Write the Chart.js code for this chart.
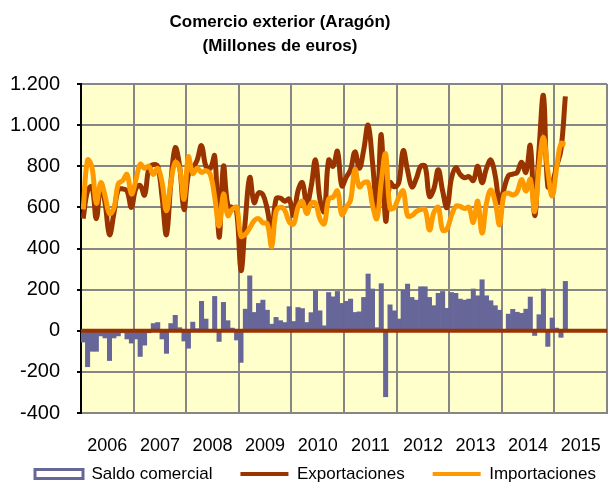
<!DOCTYPE html>
<html><head><meta charset="utf-8">
<script src="https://cdn.jsdelivr.net/npm/chart.js@4/dist/chart.umd.min.js"></script>
<style>
html,body{margin:0;padding:0;background:#fff;}
#wrap{position:relative;width:608px;height:483px;}
#title{position:absolute;left:0;top:10px;width:560px;text-align:center;font:bold 17px "Liberation Sans",Arial,sans-serif;line-height:24px;color:#000;}
canvas{position:absolute;left:0;top:0;}
</style></head><body>
<div id="wrap"><canvas id="c" width="608" height="483" style="width:608px;height:483px"></canvas>
<div id="title">Comercio exterior (Aragón)<br>(Millones de euros)</div></div>
<script>
const years = ['2006','2007','2008','2009','2010','2011','2012','2013','2014','2015'];
const seriesNames = ['Saldo comercial','Exportaciones','Importaciones'];
// monthly values, Jan 2006 - Mar 2015
const saldo = [
 -55,-175,-100,-100,-25,-35,-145,-35,-25,-10,-40,-60,
 -40,-125,-70,-10,35,40,-40,-110,35,75,15,-50,
 -85,42,10,143,57,5,167,-52,138,49,13,-45,
 -154,105,267,89,133,149,100,32,65,49,40,117,
 45,113,108,40,88,195,97,24,186,165,191,133,
 143,154,89,92,162,276,203,15,229,-321,126,97,
 57,198,227,162,149,214,214,162,122,182,191,109,
 186,182,154,149,154,203,170,248,170,146,122,100,
 5,81,104,90,85,105,164,-23,78,203,-76,62,
 13,-32,240];
const exportaciones = [
 545,680,700,545,710,620,467,570,686,690,680,600,
 690,706,660,790,808,800,650,467,720,890,800,590,
 760,790,830,900,800,790,850,455,800,610,600,580,
 292,540,746,623,670,662,590,480,640,645,630,640,
 560,680,720,615,700,830,640,580,830,800,873,705,
 746,783,870,790,880,1000,820,600,954,535,720,700,
 720,876,780,700,740,800,800,654,690,783,680,599,
 740,793,760,744,750,730,800,720,790,830,754,623,
 690,754,762,770,820,770,900,560,880,1143,700,720,
 800,880,1140];
const importaciones = [
 590,830,795,620,720,655,570,595,715,730,760,665,
 730,810,790,800,760,790,720,584,720,819,790,640,
 845,765,790,770,779,760,650,510,665,560,590,600,
 460,470,500,535,545,525,520,410,580,600,585,530,
 519,600,630,570,620,620,545,520,641,650,680,565,
 600,635,785,700,720,720,610,545,725,860,595,600,
 650,680,560,560,580,590,589,490,575,600,490,495,
 560,605,605,594,600,527,630,475,620,684,625,515,
 660,670,660,675,735,680,736,580,800,940,776,655,
 790,910,905];

const FONT = "'Liberation Sans', Arial, sans-serif";
const toXY = arr => arr.map((v, i) => ({x: i + 0.5, y: v}));
const fmt = v => String(v).replace(/\B(?=(\d{3})+(?!\d))/g, '.');

const bgPlugin = {id:'bg', beforeDraw(chart){
  const {ctx, chartArea:a} = chart; ctx.save(); ctx.fillStyle = '#FFFFCC';
  ctx.fillRect(a.left, a.top, a.right - a.left, a.bottom - a.top); ctx.restore(); }};
const zeroPlugin = {id:'zero', afterDatasetsDraw(chart){
  const {ctx, chartArea:a} = chart; const y = chart.scales.y.getPixelForValue(0);
  ctx.save(); ctx.strokeStyle = '#993300'; ctx.lineWidth = 4; ctx.beginPath();
  ctx.moveTo(a.left, y); ctx.lineTo(a.right, y); ctx.stroke(); ctx.restore(); }};
const LEG_PAD = 28;
const legendShift = {id:'legendShift', afterLayout(chart){
  const l = chart.legend; if (!l) return;
  l.top = 437.5; l.bottom = chart.height; l.height = l.bottom - l.top;
  l.left = 35 - LEG_PAD; l.right = 900; l.width = l.right - l.left; }};

new Chart(document.getElementById('c'), {
  type: 'bar',
  data: { datasets: [
    {type:'bar', label: seriesNames[0], data: toXY(saldo), backgroundColor:'#666699', borderWidth:0,
     barPercentage:1, categoryPercentage:1, order:3},
    {type:'line', label: seriesNames[1], data: toXY(exportaciones), borderColor:'#993300', borderWidth:5,
     pointRadius:0, tension:0.4, fill:false, order:2},
    {type:'line', label: seriesNames[2], data: toXY(importaciones), borderColor:'#FF9900', borderWidth:5,
     pointRadius:0, tension:0.4, fill:false, order:1}
  ]},
  options: {
    responsive:false, animation:false,
    layout:{padding:{top:84, right:1, bottom:0, left:0}},
    plugins:{
      tooltip:{enabled:false},
      title:{display:false},
      legend:{position:'bottom', align:'start', maxHeight:26,
        labels:{usePointStyle:true, pointStyleWidth:48, boxHeight:9, padding:LEG_PAD, color:'#000',
          font:{family:FONT, size:17},
          generateLabels: () => [
            {text:seriesNames[0], fillStyle:'#ffffff', strokeStyle:'#666699', lineWidth:3, pointStyle:'rect', datasetIndex:0, hidden:false, fontColor:'#000'},
            {text:seriesNames[1], fillStyle:'#993300', strokeStyle:'#993300', lineWidth:4, pointStyle:'line', datasetIndex:1, hidden:false, fontColor:'#000'},
            {text:seriesNames[2], fillStyle:'#FF9900', strokeStyle:'#FF9900', lineWidth:4, pointStyle:'line', datasetIndex:2, hidden:false, fontColor:'#000'}
          ]}}
    },
    scales:{
      x:{type:'linear', min:0, max:120, offset:false, weight:0,
        grid:{offset:false, color: c => (c.tick && c.tick.value === 0) ? 'rgba(0,0,0,0)' : '#868686', lineWidth:2, drawTicks:false},
        border:{display:true, color:'#868686', width:2},
        ticks:{display:false},
        afterBuildTicks: s => { s.ticks = years.map((y, k) => ({value: k * 12})).concat([{value:120}]); },
        afterFit: s => { s.height = 0; s.paddingLeft = 0; s.paddingRight = 0; }},
      xYears:{type:'linear', position:'bottom', min:0, max:120, offset:false, weight:1,
        grid:{display:false, drawTicks:false, offset:false}, border:{display:false},
        ticks:{autoSkip:false, maxRotation:0, padding:22, color:'#000', font:{family:FONT, size:18},
          callback: v => years[Math.round((v - 6) / 12)]},
        afterBuildTicks: s => { s.ticks = years.map((y, k) => ({value: k * 12 + 6})); },
        afterFit: s => { s.height = 44; s.paddingLeft = 0; s.paddingRight = 0; }},
      y:{min:-400, max:1200,
        ticks:{stepSize:200, padding:17, color:'#000', font:{family:FONT, size:20}, callback: v => fmt(v)},
        grid:{color:'#868686', lineWidth:2, tickColor:'#000', tickLength:4},
        border:{color:'#000', width:2},
        afterFit: s => { s.width = 81; }}
    }
  },
  plugins:[bgPlugin, zeroPlugin, legendShift]
});
</script>
</body></html>
